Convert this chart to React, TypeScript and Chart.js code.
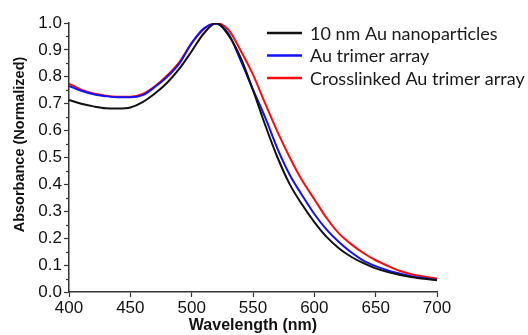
import React, { useEffect, useRef } from "react";
import { Chart, registerables } from "chart.js";

Chart.register(...registerables);

const wavelengths = [400, 410, 420, 430, 440, 450, 460, 470, 480, 490, 500, 510, 520, 530, 540, 550, 560, 570, 580, 590, 600, 610, 620, 630, 640, 650, 660, 670, 680, 690, 700];

const auNanoparticles = [0.714, 0.700, 0.690, 0.683, 0.682, 0.686, 0.706, 0.738, 0.778, 0.830, 0.895, 0.962, 0.999, 0.955, 0.870, 0.750, 0.620, 0.500, 0.400, 0.325, 0.260, 0.205, 0.163, 0.131, 0.107, 0.088, 0.074, 0.063, 0.055, 0.049, 0.044];

const trimerArray = [0.766, 0.748, 0.735, 0.728, 0.724, 0.724, 0.732, 0.762, 0.800, 0.850, 0.925, 0.980, 0.997, 0.960, 0.860, 0.752, 0.648, 0.532, 0.435, 0.360, 0.290, 0.232, 0.186, 0.148, 0.117, 0.096, 0.080, 0.068, 0.058, 0.051, 0.045];

const crosslinkedArray = [0.775, 0.752, 0.738, 0.730, 0.726, 0.726, 0.736, 0.765, 0.805, 0.855, 0.925, 0.978, 1.000, 0.975, 0.897, 0.808, 0.700, 0.595, 0.500, 0.415, 0.345, 0.275, 0.218, 0.178, 0.145, 0.118, 0.097, 0.078, 0.065, 0.057, 0.050];

const seriesLabels = ["10 nm Au nanoparticles", "Au trimer array", "Crosslinked Au trimer array"];
const seriesColors = ["#111111", "#1010ff", "#ff0a0a"];
const xTicks = [400, 450, 500, 550, 600, 650, 700];
const yTicks = [0, 0.1, 0.2, 0.3, 0.4, 0.5, 0.6, 0.7, 0.8, 0.9, 1.0];

const extrasPlugin = {
  id: "extras",
  afterDraw(chart: any) {
    const { ctx, chartArea, scales } = chart;
    const y = scales.y;
    ctx.save();
    // minor y ticks
    ctx.strokeStyle = "#333";
    ctx.lineWidth = 1.2;
    for (let i = 0; i < yTicks.length - 1; i++) {
      const v = (yTicks[i] + yTicks[i + 1]) / 2;
      const py = Math.round(y.getPixelForValue(v)) + 0.5;
      ctx.beginPath();
      ctx.moveTo(chartArea.left - 3, py);
      ctx.lineTo(chartArea.left, py);
      ctx.stroke();
    }
    // y title
    ctx.save();
    ctx.translate(20, (chartArea.top + chartArea.bottom) / 2 - 13);
    ctx.rotate(-Math.PI / 2);
    ctx.fillStyle = "#111";
    ctx.font = "bold 14.5px 'Liberation Sans', Arial, sans-serif";
    ctx.textAlign = "center";
    ctx.textBaseline = "middle";
    ctx.fillText("Absorbance (Normalized)", 0, 0);
    ctx.restore();
    // legend
    ctx.font = "18px Lato, 'Open Sans', sans-serif";
    ctx.textAlign = "left";
    ctx.textBaseline = "middle";
    chart.data.datasets.forEach((ds: any, i: number) => {
      const ly = chartArea.top + 10 + i * 22.5;
      const lx = chartArea.right - 170;
      ctx.strokeStyle = ds.borderColor;
      ctx.lineWidth = 2.5;
      ctx.beginPath();
      ctx.moveTo(lx, ly);
      ctx.lineTo(lx + 35, ly);
      ctx.stroke();
      ctx.fillStyle = "#1a1a1a";
      ctx.fillText(ds.label, lx + 43, ly + 1);
    });
    ctx.restore();
  },
};

export default function App() {
  const ref = useRef<HTMLCanvasElement>(null);
  useEffect(() => {
    document.body.style.margin = "0";
    const seriesData = [auNanoparticles, trimerArray, crosslinkedArray];
    const chart = new Chart(ref.current!, {
      type: "line",
      data: {
        datasets: seriesData.map((arr, i) => ({
          label: seriesLabels[i],
          data: wavelengths.map((w, j) => ({ x: w, y: arr[j] })),
          borderColor: seriesColors[i],
          borderWidth: 2,
          pointRadius: 0,
          cubicInterpolationMode: "monotone" as const,
          fill: false,
        })),
      },
      options: {
        responsive: false,
        animation: false,
        layout: { padding: { top: 23, right: 91, left: 0, bottom: 0 } },
        plugins: { legend: { display: false }, tooltip: { enabled: false } },
        scales: {
          x: {
            type: "linear",
            min: 400,
            max: 700,
            afterBuildTicks: (s: any) => { s.ticks = xTicks.map((v) => ({ value: v })); },
            afterFit: (s: any) => { s.height = 43; },
            ticks: { color: "#111", font: { family: "'Liberation Sans', Arial, sans-serif", size: 17 }, padding: 1, maxRotation: 0 },
            grid: { drawOnChartArea: false, tickLength: 5, color: "#333", tickWidth: 1.2 },
            border: { color: "#333", width: 1.5 },
            title: { display: true, text: "Wavelength (nm)", color: "#111", font: { family: "'Liberation Sans', Arial, sans-serif", size: 16, weight: "bold" }, padding: { top: 0, bottom: 0 } },
          },
          y: {
            type: "linear",
            min: 0,
            max: 1,
            afterBuildTicks: (s: any) => { s.ticks = yTicks.map((v) => ({ value: v })); },
            afterFit: (s: any) => { s.width = 69; },
            ticks: { color: "#111", font: { family: "'Liberation Sans', Arial, sans-serif", size: 17 }, padding: 2, callback: (v: any) => Number(v).toFixed(1) },
            grid: { drawOnChartArea: false, tickLength: 5, color: "#333", tickWidth: 1.2 },
            border: { color: "#333", width: 1.5 },
          },
        },
      },
      plugins: [extrasPlugin],
    });
    return () => chart.destroy();
  }, []);
  return (
    <div style={{ width: 528, height: 335 }}>
      <canvas ref={ref} width={528} height={335} />
    </div>
  );
}
